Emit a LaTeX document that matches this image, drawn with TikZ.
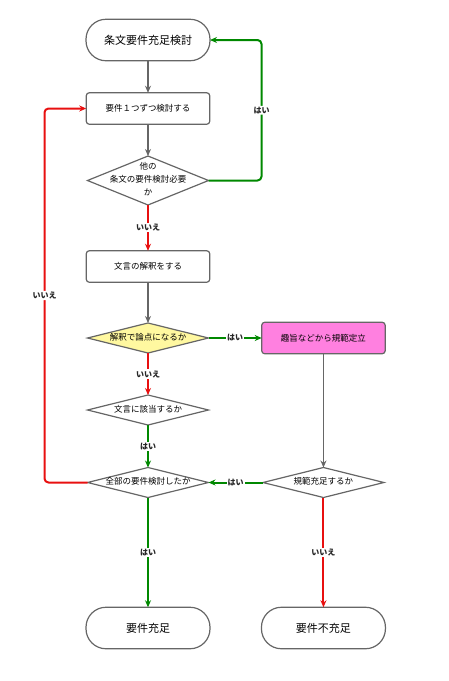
\documentclass[tikz,border=0pt]{standalone}
\usepackage{fontspec}
\setmainfont{Noto Sans CJK JP}
\usetikzlibrary{arrows.meta, positioning, calc, shapes.geometric}
\definecolor{linegray}{HTML}{666666}
\definecolor{yesgreen}{HTML}{008800}
\definecolor{nored}{HTML}{E81010}
\definecolor{askfill}{HTML}{FFF8A0}
\definecolor{normfill}{HTML}{FF80E0}
\newcommand{\dtext}[1]{\smash{\makebox[0pt]{\raisebox{-0.2em}{\begin{tabular}{@{}c@{}}#1\end{tabular}}}}}

\begin{document}
\begin{tikzpicture}[x=1pt, y=-1pt, >={Stealth[length=7pt,width=6pt]},
  term/.style={draw=linegray, line width=1.2pt, outer sep=0pt, rounded corners=20pt, minimum width=124pt, minimum height=41.5pt, font=\fontsize{11}{13}\selectfont},
  proc/.style={draw=linegray, line width=1.2pt, outer sep=0pt, rounded corners=3pt, minimum width=123.5pt, minimum height=31.5pt, font=\fontsize{8.5}{10}\selectfont},
  dec/.style={diamond, draw=linegray, line width=1.2pt, outer sep=0pt, minimum width=121pt, minimum height=30pt, inner sep=0pt, font=\fontsize{8.5}{13}\selectfont},
  flow/.style={->, linegray, line width=1.2pt},
  yes/.style={->, yesgreen, line width=2pt},
  no/.style={->, nored, line width=2pt},
  lab/.style={fill=white, inner sep=1pt, font=\fontsize{8}{9}\selectfont\bfseries, text=black!85}]
\useasboundingbox (0,0) rectangle (448,681);
\node[term] (start) at (148,40) {条文要件充足検討};
\node[proc, below=32pt of start] (one) {要件１つずつ検討する};
\node[dec, minimum height=49pt, below=31.75pt of one] (other) {\dtext{他の\\条文の要件検討必要\\か}};
\node[proc, below=45.75pt of other] (read) {文言の解釈をする};
\node[dec, fill=askfill, below=40.75pt of read] (issue) {\dtext{解釈で論点になるか}};
\node[proc, fill=normfill, right=53.2pt of issue] (norm) {趣旨などから規範定立};
\node[dec, below=42pt of issue] (fit) {\dtext{文言に該当するか}};
\node[dec, below=42.5pt of fit] (all) {\dtext{全部の要件検討したか}};
\node[dec] (meet) at (norm |- all) {\dtext{規範充足するか}};
\node[term, below=109.75pt of all] (done) {要件充足};
\node[term] (fail) at (norm |- done) {要件不充足};

\draw[flow] (start) -- (one);
\draw[flow] (one) -- (other);
\draw[yes, rounded corners=4pt] (other.east) -- ++(53,0) |- node[lab, pos=0.25]{はい} (start.east);
\draw[no] (other) -- node[lab]{いいえ} (read);
\draw[flow] (read) -- (issue);
\draw[yes] (issue) -- node[lab]{はい} (norm);
\draw[no] (issue) -- node[lab]{いいえ} (fit);
\draw[yes] (fit) -- node[lab]{はい} (all);
\draw[flow] (norm) -- (meet);
\draw[yes] (meet) -- node[lab]{はい} (all);
\draw[no, rounded corners=4pt] (all.west) -- ++(-43,0) |- node[lab, pos=0.25]{いいえ} (one.west);
\draw[yes] (all) -- node[lab]{はい} (done);
\draw[no] (meet) -- node[lab]{いいえ} (fail);
\end{tikzpicture}
\end{document}
